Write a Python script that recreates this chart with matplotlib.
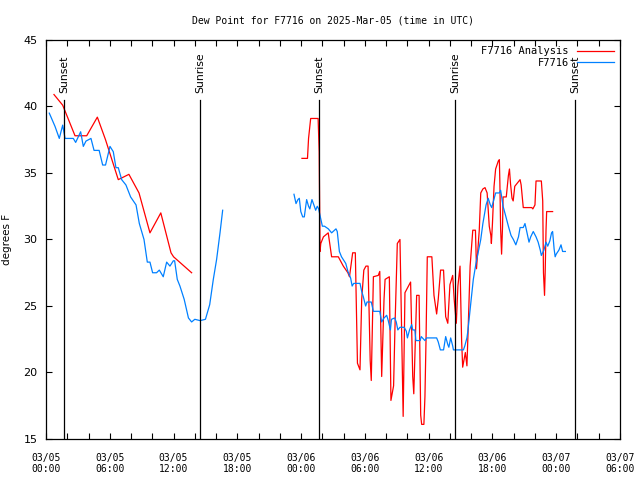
import matplotlib
matplotlib.use('Agg')
import matplotlib.pyplot as plt

# hours since 03/05 00:00 UTC
obs_hours_1 = [0.31, 0.85, 1.25, 1.57, 1.79, 2.57, 2.79, 3.26, 3.51, 3.76, 4.23, 4.52, 5.0, 5.33, 5.6,
               6.02, 6.33, 6.58, 6.8, 7.12, 7.52, 7.96, 8.47, 8.78, 9.22, 9.53, 9.78, 10.03, 10.4,
               10.66, 11.03, 11.35, 11.66, 11.98, 12.1, 12.35, 12.6, 13.0, 13.4, 13.7, 14.0, 14.5,
               15.0, 15.4, 15.74, 16.05, 16.37, 16.62]
obs_vals_1 = [39.5, 38.5, 37.6, 38.6, 37.6, 37.6, 37.3, 38.1, 37.0, 37.4, 37.6, 36.7, 36.7, 35.6, 35.6,
              37.0, 36.6, 35.4, 35.4, 34.5, 34.1, 33.2, 32.6, 31.2, 30.0, 28.3, 28.3, 27.5, 27.5,
              27.7, 27.2, 28.3, 28.0, 28.4, 28.4, 27.0, 26.5, 25.5, 24.1, 23.8, 24.0, 23.9,
              24.0, 25.1, 27.0, 28.5, 30.5, 32.2]

obs_hours_2 = [23.33, 23.52, 23.7, 23.83, 23.97, 24.15, 24.3, 24.52, 24.7, 24.82, 25.02, 25.2, 25.37,
               25.52, 25.65, 25.78, 26.0, 26.2, 26.56, 26.87, 27.28, 27.4, 27.6, 27.8, 28.2, 28.4,
               28.66, 28.8, 28.95, 29.54, 29.7, 29.85, 30.07, 30.2, 30.6, 30.8, 31.4, 31.58, 31.8,
               32.05, 32.2, 32.4, 32.5, 32.8, 32.95, 33.1, 33.3, 33.7, 33.9, 34.0, 34.2, 34.4, 34.5,
               34.7, 34.8, 35.2, 35.3, 35.65, 35.8, 36.75, 36.9, 37.1, 37.4, 37.6, 37.8, 37.9, 38.07,
               38.26, 38.33, 39.27, 39.4, 39.6, 39.7, 40.0, 40.2, 40.45, 40.7, 40.9, 41.1, 41.4, 41.6,
               41.8, 41.93, 42.1, 42.3, 42.65, 42.77, 42.85, 43.0, 43.27, 43.5, 43.75, 43.97, 44.2,
               44.45, 44.6, 44.9, 45.06, 45.2, 45.44, 45.6, 45.84, 46.1, 46.3, 46.5, 46.6, 46.84,
               47.04, 47.2, 47.4, 47.56, 47.66, 47.8, 47.9, 48.0, 48.25, 48.45, 48.6, 48.86]
obs_vals_2 = [33.4, 32.7, 33.0, 33.1, 32.1, 31.7, 31.7, 33.0, 32.5, 32.3, 33.0, 32.6, 32.2,
              32.5, 32.3, 31.8, 31.0, 31.0, 30.8, 30.5, 30.8, 30.6, 29.1, 28.7, 28.2, 27.6,
              27.1, 26.5, 26.7, 26.7, 26.1, 25.7, 25.0, 25.3, 25.3, 24.6, 24.6, 23.8, 24.1,
              24.3, 23.9, 23.2, 24.0, 24.1, 23.8, 23.2, 23.4, 23.4, 23.1, 22.6, 23.2, 23.6, 23.2,
              23.2, 22.4, 22.4, 22.7, 22.4, 22.6, 22.6, 22.3, 21.7, 21.7, 22.7, 22.1, 21.9, 22.6,
              22.0, 21.7, 21.7, 22.0, 22.6, 23.2, 25.5, 27.0, 28.2, 29.2, 30.0, 31.2, 32.6, 33.1,
              32.6, 32.4, 32.9, 33.5, 33.5, 33.7, 33.3, 32.5, 31.7, 31.0, 30.3, 30.0, 29.6,
              30.2, 30.9, 30.9, 31.2, 30.7, 29.8, 30.2, 30.6, 30.2, 29.8, 29.2, 28.8, 29.2,
              29.8, 29.5, 29.9, 30.5, 30.6, 29.3, 28.7, 28.9, 29.2, 29.6, 29.1, 29.1]

ana_hours_1 = [0.75, 1.57, 2.73, 3.83, 4.83, 5.6, 6.8, 7.8, 8.75, 9.78, 10.8, 11.76, 12.0, 13.7]
ana_vals_1 = [40.9, 40.1, 37.8, 37.8, 39.2, 37.5, 34.5, 34.9, 33.5, 30.5, 32.0, 29.0, 28.7, 27.5]

ana_hours_2 = [24.08, 24.6, 24.7, 24.9, 25.6, 25.7, 25.78, 25.85, 26.1, 26.55, 26.87, 27.5, 27.97,
               28.4, 28.55, 28.85, 29.1, 29.3, 29.54, 29.7, 29.9, 30.1, 30.3, 30.5, 30.6, 30.8,
               31.26, 31.4, 31.58, 31.8, 31.9, 32.3, 32.45, 32.7, 32.83, 33.05, 33.3, 33.45, 33.6,
               33.77, 34.1, 34.3, 34.5, 34.6, 34.87, 35.1, 35.25, 35.34, 35.55, 35.65, 35.75, 35.87,
               36.3, 36.5, 36.75, 36.9, 37.12, 37.4, 37.6, 37.8, 38.0, 38.26, 38.4, 38.6, 38.75,
               38.95, 39.1, 39.2, 39.45, 39.6, 39.7, 39.9, 40.15, 40.4, 40.5, 40.76, 40.9, 41.1,
               41.3, 41.5, 41.7, 41.85, 41.9, 42.0, 42.15, 42.3, 42.55, 42.65, 42.7, 42.77, 42.86,
               42.95, 43.0, 43.3, 43.5, 43.6, 43.7, 43.84, 43.95, 44.1, 44.3, 44.6, 44.7, 44.84,
               44.9, 45.7, 45.8, 46.0, 46.1, 46.6, 46.73, 46.8, 46.9, 46.96, 47.04, 47.1, 47.66]
ana_vals_2 = [36.1, 36.1, 37.6, 39.1, 39.1, 36.6, 29.1, 29.7, 30.2, 30.5, 28.7, 28.7, 28.0,
              27.5, 27.2, 29.0, 29.0, 20.7, 20.2, 25.5, 27.7, 28.0, 28.0, 20.9, 19.4, 27.2,
              27.3, 27.6, 19.7, 25.5, 27.0, 27.2, 17.9, 19.0, 23.4, 29.7, 30.0, 23.4, 16.7,
              26.0, 26.5, 26.8, 19.7, 18.4, 25.8, 25.8, 16.8, 16.1, 16.1, 18.2, 22.4, 28.7,
              28.7, 25.8, 24.4, 25.5, 27.7, 27.7, 24.2, 23.7, 26.6, 27.3, 25.5, 23.7, 26.5,
              28.0, 22.4, 20.4, 21.5, 20.5, 22.9, 28.0, 30.7, 30.7, 27.8, 30.7, 33.5, 33.8,
              33.9, 33.5, 31.0, 30.3, 29.7, 31.2, 34.0, 35.3, 35.9, 36.0, 34.2, 30.8, 28.9,
              31.0, 33.2, 33.2, 34.8, 35.3, 34.2, 33.1, 32.9, 34.0, 34.2, 34.5, 34.1, 32.9,
              32.4, 32.4, 32.3, 32.6, 34.4, 34.4, 32.9, 27.5, 25.8, 27.5, 30.7, 32.1, 32.1]

sun_hours = [1.69, 14.49, 25.68, 38.48, 49.76]
sun_labels = ['Sunset', 'Sunrise', 'Sunset', 'Sunrise', 'Sunset']

tick_hours = [0, 6, 12, 18, 24, 30, 36, 42, 48, 54]
tick_labels = ['03/05\n00:00', '03/05\n06:00', '03/05\n12:00', '03/05\n18:00', '03/06\n00:00',
               '03/06\n06:00', '03/06\n12:00', '03/06\n18:00', '03/07\n00:00', '03/07\n06:00']

mono = 'DejaVu Sans Mono'
fig = plt.figure(figsize=(6.4, 4.8), dpi=100)
ax = fig.add_axes([46/640, 41/480, 574/640, 399/480])

red = '#ff0000'
blue = '#0080ff'
ax.plot(ana_hours_1, ana_vals_1, color=red, lw=0.9, label='F7716 Analysis')
ax.plot(ana_hours_2, ana_vals_2, color=red, lw=0.9)
ax.plot(obs_hours_1, obs_vals_1, color=blue, lw=0.9, label='F7716')
ax.plot(obs_hours_2, obs_vals_2, color=blue, lw=0.9)

for h, lab in zip(sun_hours, sun_labels):
    ax.plot([h, h], [15, 40.5], color='black', lw=0.9)
    ax.text(h, 41.0, lab, rotation=90, ha='center', va='bottom', fontsize=7.8, family='DejaVu Sans')

ax.set_xlim(0, 54)
ax.set_ylim(15, 45)
ax.set_xticks(tick_hours)
ax.set_xticklabels(tick_labels, family=mono, fontsize=7)
ax.set_xticks(range(0, 55, 2), minor=True)
ax.set_yticks([15, 20, 25, 30, 35, 40, 45])
ax.tick_params(axis='both', which='both', direction='in', top=True, right=True, length=4, width=0.8)
ax.tick_params(axis='x', pad=10)
ax.tick_params(axis='y', labelsize=8, pad=6)
for s in ax.spines.values():
    s.set_linewidth(0.9)

ax.set_ylabel('degrees F', fontsize=7.5, labelpad=8)
ax.set_title('Dew Point for F7716 on 2025-Mar-05 (time in UTC)', family=mono, fontsize=7, pad=12)
leg = ax.legend(loc='upper right', frameon=False, markerfirst=False,
                prop={'family': mono, 'size': 7.5}, handlelength=3.5, borderaxespad=0.2,
                labelspacing=0.15)
for t in leg.get_texts():
    t.set_ha('right')

fig.savefig('out.png', dpi=100)
